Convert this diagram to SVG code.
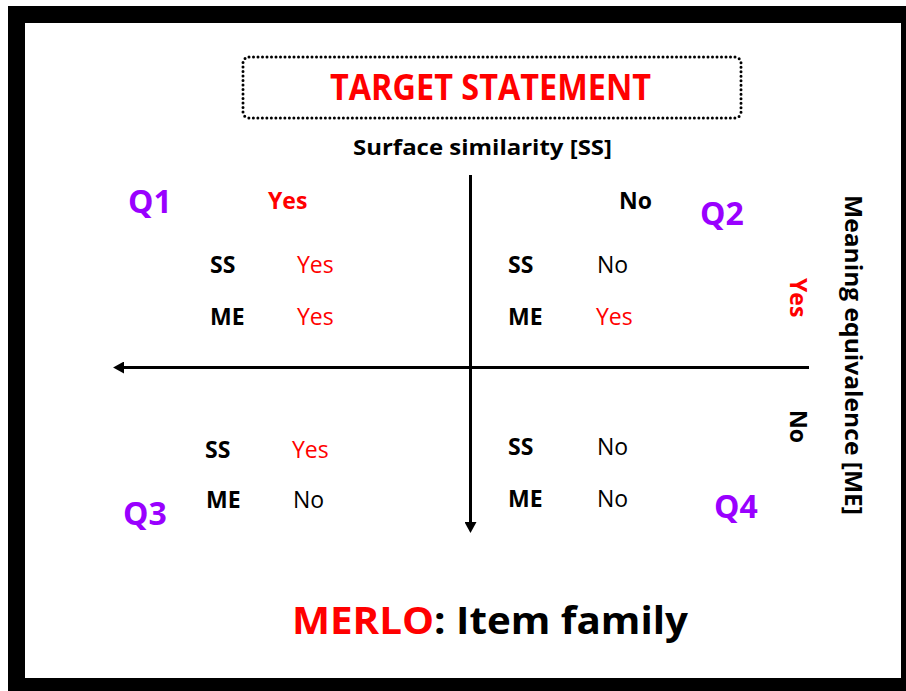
<svg xmlns="http://www.w3.org/2000/svg" width="906" height="691" viewBox="0 0 906 691">
<style>
text{font-family:"Open Sans","DejaVu Sans",sans-serif;}
.b{font-weight:bold;}
.red{fill:#ff0000;}
.blk{fill:#000000;}
.q{fill:#9900ff;font-weight:bold;font-size:32px;}
.lab{font-size:23px;}
.ax{stroke:#000;stroke-width:3;fill:none;}
</style>
<defs>
<marker id="ah" markerUnits="userSpaceOnUse" markerWidth="12" markerHeight="12" viewBox="0 0 10 11" refX="0" refY="5.5" orient="auto">
<path d="M0,0 L10,5.5 L0,11 Z" fill="#000"/>
</marker>
</defs>
<rect x="0" y="0" width="906" height="691" fill="#fff"/>
<rect x="8" y="6" width="898" height="685" fill="#000"/>
<rect x="25" y="23" width="876" height="655" fill="#fff"/>

<g id="target">
<rect x="243" y="57" width="498" height="61" rx="6" fill="none" stroke="#000" stroke-width="3" stroke-dasharray="0 4.5" stroke-linecap="round"/>
<text x="490.5" y="100" text-anchor="middle" class="b red" font-size="35" textLength="321" lengthAdjust="spacingAndGlyphs">TARGET STATEMENT</text>
</g>

<g id="connectors">
<line class="ax" x1="470.5" y1="175" x2="470.5" y2="522" marker-end="url(#ah)"/>
<line class="ax" x1="809" y1="367.5" x2="124" y2="367.5" marker-end="url(#ah)"/>
</g>

<g id="axis-ss">
<text x="482.5" y="155" text-anchor="middle" class="b blk" font-size="22" textLength="259" lengthAdjust="spacingAndGlyphs">Surface similarity [SS]</text>
<text x="268" y="209" class="b red lab">Yes</text>
<text x="619" y="209" class="b blk lab">No</text>
</g>

<g id="axis-me">
<text transform="translate(845,195) rotate(90)" class="b blk lab" textLength="320" lengthAdjust="spacingAndGlyphs">Meaning equivalence [ME]</text>
<text transform="translate(790,278) rotate(90)" class="b red lab">Yes</text>
<text transform="translate(790,410) rotate(90)" class="b blk lab">No</text>
</g>

<g id="q1">
<text x="128" y="213" class="q">Q1</text>
<text x="210" y="273" class="b blk lab">SS</text>
<text x="297" y="273" class="red lab">Yes</text>
<text x="210" y="325" class="b blk lab">ME</text>
<text x="297" y="325" class="red lab">Yes</text>
</g>

<g id="q2">
<text x="700" y="225" class="q">Q2</text>
<text x="508" y="273" class="b blk lab">SS</text>
<text x="597" y="273" class="blk lab">No</text>
<text x="508" y="325" class="b blk lab">ME</text>
<text x="596" y="325" class="red lab">Yes</text>
</g>

<g id="q3">
<text x="123" y="525" class="q">Q3</text>
<text x="205" y="458" class="b blk lab">SS</text>
<text x="292" y="458" class="red lab">Yes</text>
<text x="206" y="508" class="b blk lab">ME</text>
<text x="293" y="508" class="blk lab">No</text>
</g>

<g id="q4">
<text x="714" y="518" class="q">Q4</text>
<text x="508" y="455" class="b blk lab">SS</text>
<text x="597" y="455" class="blk lab">No</text>
<text x="508" y="507" class="b blk lab">ME</text>
<text x="597" y="507" class="blk lab">No</text>
</g>

<g id="title">
<text x="490" y="634" text-anchor="middle" class="b" font-size="38" textLength="396" lengthAdjust="spacingAndGlyphs"><tspan class="red">MERLO</tspan><tspan class="blk">: Item family</tspan></text>
</g>
</svg>
